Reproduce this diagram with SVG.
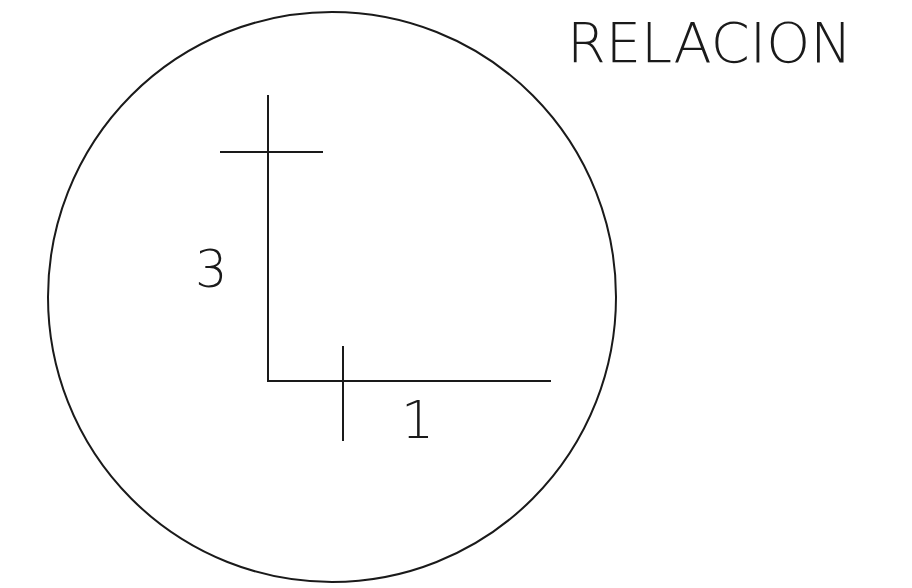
<svg xmlns="http://www.w3.org/2000/svg" width="912" height="588" viewBox="0 0 912 588">
<style>
.ln{stroke:#1a1a1a;stroke-width:2;fill:none}
.t{font-family:"DejaVu Sans","Liberation Sans",sans-serif;font-weight:200;fill:#1a1a1a}
</style>
<rect width="912" height="588" fill="#fff"/>
<g id="circle"><ellipse class="ln" cx="332" cy="297" rx="284" ry="285" stroke-width="1.6"/></g>
<g id="connectors">
<polyline class="ln" points="268,95 268,381 551,381"/>
<line class="ln" x1="220" y1="152" x2="323" y2="152"/>
<line class="ln" x1="343" y1="346" x2="343" y2="441"/>
</g>
<g id="labels">
<text class="t" x="567" y="62" font-size="55" textLength="285" lengthAdjust="spacingAndGlyphs">RELACION</text>
<text class="t" x="195" y="287" font-size="51">3</text>
<text class="t" x="401" y="438" font-size="52">1</text>
</g>
</svg>
